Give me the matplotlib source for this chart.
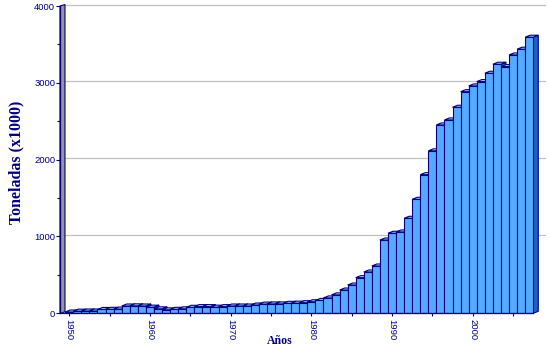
import matplotlib
matplotlib.use('Agg')
import matplotlib.pyplot as plt
from matplotlib.patches import Polygon

years = list(range(1950, 2008))
tonnes = [17, 28, 30, 30, 50, 52, 55, 95, 97, 95,
          80, 58, 45, 52, 58, 78, 87, 87, 80, 87,
          95, 95, 95, 108, 120, 122, 122, 130, 132, 138,
          150, 168, 200, 240, 303, 368, 464, 538, 616, 954,
          1042, 1059, 1237, 1484, 1805, 2115, 2452, 2517, 2682, 2885,
          2960, 3016, 3125, 3242, 3211, 3363, 3438, 3594]
y_ticks = [0, 1000, 2000, 3000, 4000]
x_ticks = [1950, 1960, 1970, 1980, 1990, 2000]
x_minor = [1955, 1965, 1975, 1985, 1995, 2005]

navy = '#000080'
front = '#55AAFF'
cap = '#A8E4FF'
side = '#2060C0'

W, H = 549, 363
fig = plt.figure(figsize=(W / 100, H / 100), dpi=100)
ax_l, ax_r, ax_t, ax_b = 60, 545, 6, 313.3
ax = fig.add_axes([ax_l / W, (H - ax_b) / H, (ax_r - ax_l) / W, (ax_b - ax_t) / H])

# pixel scales
px_x = 8.07                      # px per year
px_y = (ax_b - ax_t) / 4000      # px per tonne
bar0_left = 65.2
xl = years[0] - 0.5 - (bar0_left - ax_l) / px_x
xr = xl + (ax_r - ax_l) / px_x
ax.set_xlim(xl, xr)
ax.set_ylim(0, 4000)

ddx = 5 / px_x
ddy = 2 / px_y

# back wall gridlines
for v in y_ticks[1:]:
    ax.plot([xl + ddx, xr], [v + ddy * 0.75, v + ddy * 0.75], color='#C0C0C0',
            lw=0.9, zorder=1, clip_on=False)

# left side wall
wall = Polygon([(xl, 0), (xl, 4000), (xl + ddx, 4000 + ddy * 0.75), (xl + ddx, ddy * 0.75)],
               closed=True, facecolor='#969696', edgecolor=navy, lw=0.8, zorder=2, clip_on=False)
ax.add_patch(wall)

bars = ax.bar(years, tonnes, width=1.0, color=front, edgecolor=navy, linewidth=0.8)
for i, (b, h) in enumerate(zip(bars, tonnes)):
    x0 = b.get_x()
    x1 = x0 + b.get_width()
    z = 3 + 3 * i
    sd = Polygon([(x1, 0), (x1, h), (x1 + ddx, h + ddy), (x1 + ddx, ddy)], closed=True,
                 facecolor=side, edgecolor=navy, lw=0.8, zorder=z, clip_on=False)
    tp = Polygon([(x0, h), (x1, h), (x1 + ddx, h + ddy), (x0 + ddx, h + ddy)], closed=True,
                 facecolor=cap, edgecolor=navy, lw=0.8, zorder=z + 1, clip_on=False)
    ax.add_patch(sd)
    ax.add_patch(tp)
    b.set_zorder(z + 2)
    b.set_clip_on(False)

# floor / axis line
ax.plot([xl, years[-1] + 0.5], [0, 0], color=navy, lw=0.9, zorder=500, clip_on=False)

for s in ['top', 'right', 'bottom']:
    ax.spines[s].set_visible(False)
ax.spines['left'].set_color(navy)
ax.spines['left'].set_linewidth(0.9)
ax.spines['left'].set_zorder(400)

ax.set_yticks(y_ticks)
ax.set_yticks([500, 1500, 2500, 3500], minor=True)
ax.set_xticks(x_ticks)
ax.set_xticks(x_minor, minor=True)
ax.set_yticklabels([str(v) for v in y_ticks], fontsize=6.8, color=navy,
                   family=['Liberation Sans', 'DejaVu Sans'])
ax.set_xticklabels([str(v) for v in x_ticks], fontsize=6.8, color=navy, rotation=270,
                   family=['Liberation Sans', 'DejaVu Sans'])
ax.tick_params(axis='y', which='major', direction='out', length=3, width=0.8, color=navy, pad=0.5)
ax.tick_params(axis='y', which='minor', direction='inout', length=4, width=0.8, color=navy)
ax.tick_params(axis='x', which='both', direction='out', length=2.3, width=0.8, color=navy, pad=1.5)

fig.text(16 / W, 1 - 162 / H, 'Toneladas (x1000)', rotation=90, ha='center', va='center',
         fontsize=11.5, fontweight='bold', color=navy, family=['Liberation Serif', 'DejaVu Serif'])
fig.text(280 / W, 1 - 341 / H, 'Años', ha='center', va='center',
         fontsize=8.5, fontweight='bold', color=navy, family=['Liberation Serif', 'DejaVu Serif'])

fig.savefig('out.png', dpi=100)
